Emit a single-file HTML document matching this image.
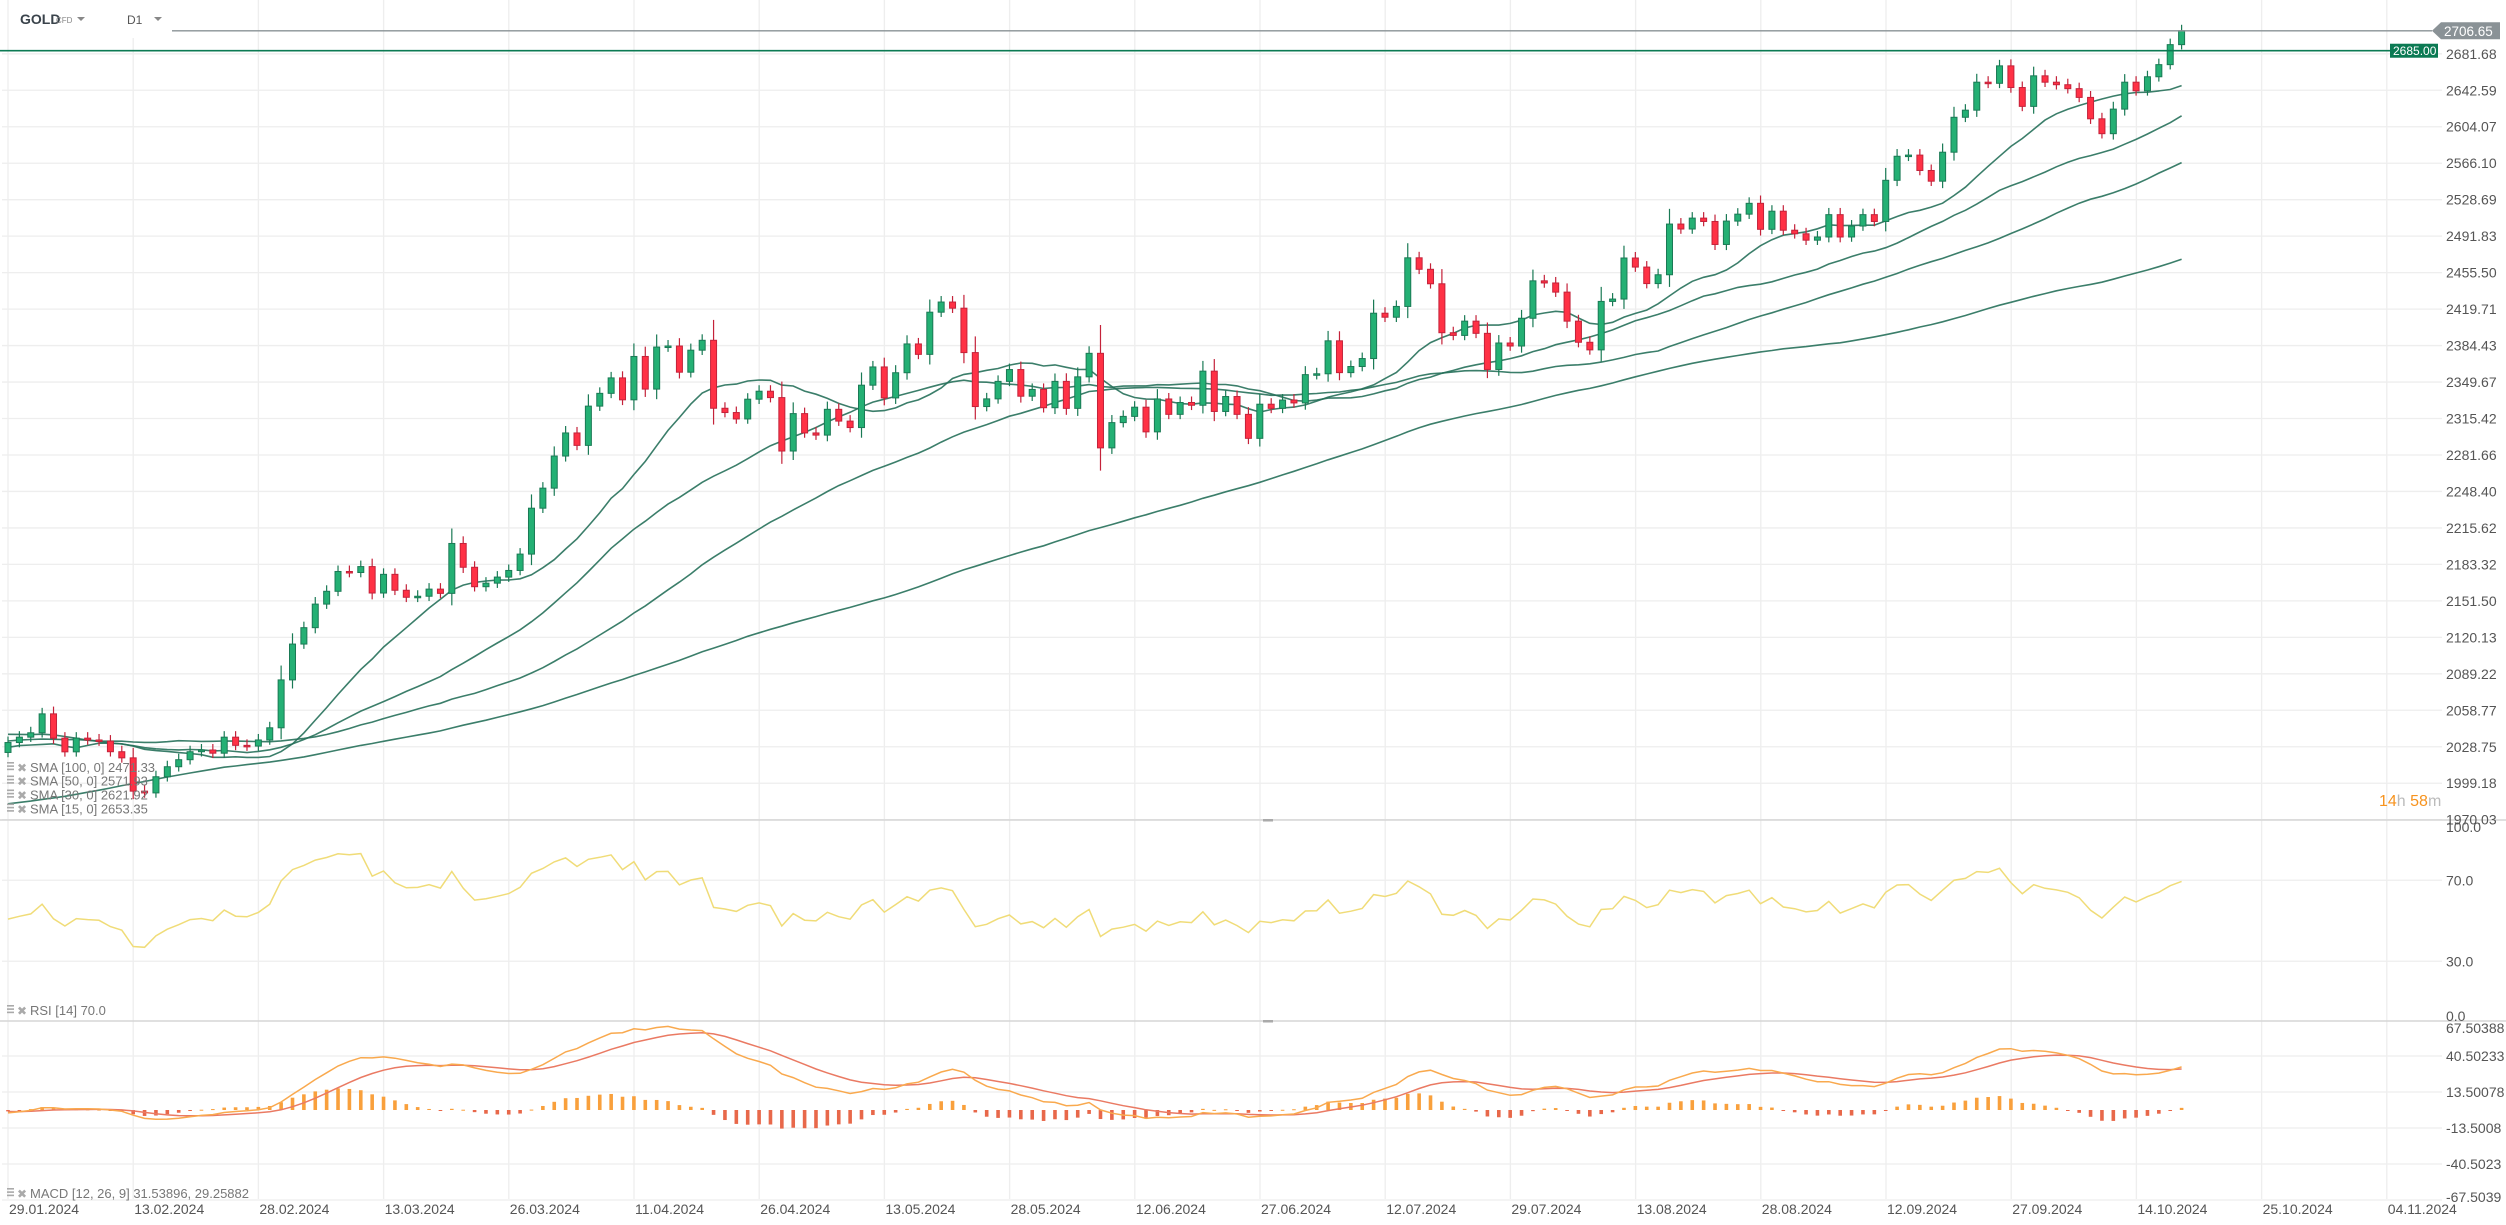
<!DOCTYPE html>
<html><head><meta charset="utf-8"><style>
html,body{margin:0;padding:0;background:#fff;}
svg{display:block;font-family:"Liberation Sans",sans-serif;}
</style></head><body>
<svg id="chart" width="2506" height="1225" viewBox="0 0 2506 1225" xmlns="http://www.w3.org/2000/svg">
<g id="grid"></g>
<g id="main"></g>
<g id="rsi"></g>
<g id="macd"></g>
<g id="axes"></g>
<g id="hdr">
  <rect x="10" y="0" width="162" height="38" fill="#fff"/>
  <text x="20" y="24" font-size="14" font-weight="bold" fill="#3a434b">GOLD</text>
  <text x="56" y="23" font-size="8" fill="#888">CFD</text>
  <path d="M77 17 L85 17 L81 21 Z" fill="#888"/>
  <text x="127" y="24" font-size="12" fill="#555">D1</text>
  <path d="M154 17 L162 17 L158 21 Z" fill="#888"/>
</g>
</svg>
<script>
const NS='http://www.w3.org/2000/svg';
// ---- data ----
const hist=[1923,1930,1932,1920,1918,1900,1875,1865,1870,1848,1830,1828,1822,1820,1833,1860,1862,1873,1868,1875,1932,1922,1921,1950,1947,1975,1980,1972,1970,1985,1984,1998,2006,1993,1983,1986,1994,1992,1978,1968,1950,1957,1959,1940,1946,1962,1982,1987,1980,1977,1992,2000,2015,2041,2044,2037,2036,2057,2072,2029,2019,2027,2005,2005,1983,1980,2036,2043,2019,2026,2031,2040,2045,2047,2052,2065,2078,2083,2063,2063,2043,2036,2041,2031,2029,2029,2015,2033,2049,2028,2055,2054,2006,2006,2023,2029,2021,2030,2020,2023];
const firstOpen=2024.1;
const closes=[2032.2,2036.6,2040.2,2055.8,2035.8,2024.6,2035.8,2034.3,2033.4,2024.7,2019.7,1992.8,1991.4,2004.4,2012.5,2018.2,2024.7,2026.1,2023.5,2036.6,2029.9,2029.3,2034.3,2044.3,2084.1,2114.4,2128.4,2148.7,2159.8,2177.1,2176.2,2181.4,2158.3,2174.6,2160.7,2154.6,2155.5,2161.7,2158.0,2201.8,2180.8,2163.8,2166.9,2172.2,2178.0,2192.4,2233.3,2251.4,2280.7,2302,2290.5,2327,2339,2353.6,2332.9,2374,2343,2383,2384,2359,2380,2389.5,2325,2321,2315,2333.5,2341,2335,2285.3,2320,2302,2300,2324,2313,2307,2346.7,2364,2334.7,2358.5,2386,2376,2416.7,2426.6,2420.6,2377.7,2326.6,2333.8,2350.3,2361.5,2336.3,2342.7,2325.5,2350.3,2324.9,2354.6,2377,2288.2,2311.6,2317.4,2326,2303,2333.7,2319.3,2330.4,2327.8,2360,2322,2336,2319.3,2297,2328.8,2324.9,2332.7,2330,2356.7,2357.5,2389,2358.6,2364.4,2372,2415.7,2411.8,2422.3,2470.2,2458.8,2444.5,2396.8,2394.2,2408,2396.2,2361.6,2386.9,2384,2410.8,2447.4,2445.3,2436.3,2408.0,2387.6,2380.3,2427.2,2429.5,2470,2461,2444.7,2453.4,2504,2499,2510,2506.6,2483.5,2507,2514,2525,2498.7,2517,2497.8,2494.2,2487.8,2491,2513.5,2491,2502,2513.5,2506.6,2548.5,2573.3,2574.5,2558.6,2547.6,2577.5,2614,2621.5,2651.2,2650,2668.7,2645.5,2625.5,2658,2651.2,2648.5,2644.3,2635,2612.4,2596.8,2622.6,2651.2,2642,2657,2670,2691.6,2706.65];
const priceTicks=[2681.68,2642.59,2604.07,2566.10,2528.69,2491.83,2455.50,2419.71,2384.43,2349.67,2315.42,2281.66,2248.40,2215.62,2183.32,2151.50,2120.13,2089.22,2058.77,2028.75,1999.18,1970.03];
const rsiTicks=[100,70,30,0];
const rsiTickLabels=['100.0','70.0','30.0','0.0'];
const macdTicks=[67.50388,40.50233,13.50078,-13.5008,-40.5023,-67.5039];
const macdTickLabels=['67.50388','40.50233','13.50078','-13.5008','-40.5023','-67.5039'];
const dateLabels=['29.01.2024','13.02.2024','28.02.2024','13.03.2024','26.03.2024','11.04.2024','26.04.2024','13.05.2024','28.05.2024','12.06.2024','27.06.2024','12.07.2024','29.07.2024','13.08.2024','28.08.2024','12.09.2024','27.09.2024','14.10.2024','25.10.2024','04.11.2024'];
const smaPeriods=[100,50,30,15];
const lastPrice=2706.65, linePrice=2685.00;

// ---- scales ----
const N=closes.length;
const xBar=i=>8+i*(2181.6-8)/(N-1);
const xDate=k=>8+k*125.2;
const yP=p=>53.8+2483.5*Math.log(2681.68/p);
const yR=v=>1022-v*2.025;
const yM=v=>1110-v*1.3334;

function el(tag,attrs,parent){const e=document.createElementNS(NS,tag);for(const k in attrs)e.setAttribute(k,attrs[k]);parent.appendChild(e);return e;}
const G=document.getElementById('grid'),M=document.getElementById('main'),R=document.getElementById('rsi'),MC=document.getElementById('macd'),A=document.getElementById('axes');

// grid
priceTicks.forEach(p=>{const l=el('line',{x1:2,x2:2442,y1:yP(p),y2:yP(p),stroke:'#eeeeee','stroke-width':1.3},G);

});
[70,30].forEach(v=>{const l=el('line',{x1:2,x2:2442,y1:yR(v),y2:yR(v),stroke:'#eeeeee','stroke-width':1.3},G);

});
macdTicks.slice(1).forEach(v=>{const l=el('line',{x1:2,x2:2442,y1:yM(v),y2:yM(v),stroke:'#eeeeee','stroke-width':1.3},G);

});
dateLabels.forEach((d,k)=>{const l=el('line',{x1:xDate(k),x2:xDate(k),y1:0,y2:1199,stroke:'#eeeeee','stroke-width':1.3},G);

});
// separators
[[820,'price-rsi-separator'],[1021,'rsi-macd-separator']].forEach(([y,n])=>{const l=el('line',{x1:0,x2:2506,y1:y,y2:y,stroke:'#d6d6d6','stroke-width':1.5},G);


const h=el('rect',{x:1263,y:y-1,width:10,height:2.5,fill:'#aaa'},G);

});

// indicators
const all=hist.concat(closes);const H=hist.length;
function sma(n,i){let s=0;for(let j=i-n+1;j<=i;j++)s+=all[j];return s/n;}
function ema(n){const k=2/(n+1);const out=[all[0]];for(let i=1;i<all.length;i++)out.push(all[i]*k+out[i-1]*(1-k));return out;}
const e12=ema(12),e26=ema(26);const macdAll=e12.map((v,i)=>v-e26[i]);
const sig=[macdAll[0]];for(let i=1;i<macdAll.length;i++)sig.push(macdAll[i]*0.2+sig[i-1]*0.8);
let ag=0,al=0;const rsiAll=[];
for(let i=1;i<all.length;i++){const d=all[i]-all[i-1];const g=Math.max(d,0),l=Math.max(-d,0);
 if(i<=14){ag+=g/14;al+=l/14;}else{ag=(ag*13+g)/14;al=(al*13+l)/14;}
 rsiAll[i]=al===0?100:100-100/(1+ag/al);}

// SMA lines
smaPeriods.forEach(n=>{let d='';for(let i=0;i<N;i++){d+=(i?'L':'M')+xBar(i).toFixed(1)+' '+yP(sma(n,H+i)).toFixed(1);}
const p=el('path',{d:d,fill:'none',stroke:'#26705a','stroke-width':1.6,'stroke-opacity':0.9},M);

});

// candles
for(let i=0;i<N;i++){const o=i?closes[i-1]:firstOpen,c=closes[i];const up=c>=o;
 const x=xBar(i);const top=yP(Math.max(o,c)),bot=yP(Math.min(o,c));
 const wick=Math.max(6,(bot-top)*0.3);
 const g=el('g',{},M);
 
 
 el('line',{x1:x,x2:x,y1:top-wick,y2:bot+wick*0.8,stroke:up?'#1a7a55':'#c4223a','stroke-width':1.2},g);
 el('rect',{x:x-3,y:top,width:6,height:Math.max(1.5,bot-top),fill:up?'#24b074':'#ff3145',stroke:up?'#1a7a55':'#c4223a','stroke-width':1},g);}

// price lines
const gl=el('line',{x1:172,x2:2432,y1:yP(lastPrice),y2:yP(lastPrice),stroke:'#8a9296','stroke-width':1.4},M);


const hl=el('line',{x1:0,x2:2390,y1:yP(linePrice),y2:yP(linePrice),stroke:'#0b7a53','stroke-width':1.6},M);



// RSI
let rd='';for(let i=0;i<N;i++)rd+=(i?'L':'M')+xBar(i).toFixed(1)+' '+yR(rsiAll[H+i]).toFixed(1);
const rl=el('path',{d:rd,fill:'none',stroke:'#f0dc78','stroke-width':1.5},R);



// MACD
for(let i=0;i<N;i++){const h=macdAll[H+i]-sig[H+i];const y0=yM(0),y1=yM(h);
 const b=el('rect',{x:xBar(i)-1.8,y:Math.min(y0,y1),width:3.6,height:Math.max(1,Math.abs(y1-y0)),fill:h>=0?'#f9a03c':'#e8684a'},MC);
 
 }
let md='',sd='';for(let i=0;i<N;i++){md+=(i?'L':'M')+xBar(i).toFixed(1)+' '+yM(macdAll[H+i]).toFixed(1);sd+=(i?'L':'M')+xBar(i).toFixed(1)+' '+yM(sig[H+i]).toFixed(1);}
const sl=el('path',{d:sd,fill:'none',stroke:'#ea7a63','stroke-width':1.5},MC);


const ml=el('path',{d:md,fill:'none',stroke:'#f9a94e','stroke-width':1.5},MC);



// axis labels
priceTicks.forEach(p=>{const t=el('text',{x:2446,y:yP(p)+5,'font-size':14,fill:'#555'},A);t.textContent=p.toFixed(2);

});
rsiTicks.forEach((v,k)=>{const y=Math.min(Math.max(yR(v),827),1016);const t=el('text',{x:2446,y:y+5,'font-size':14,fill:'#555'},A);t.textContent=rsiTickLabels[k];

});
macdTicks.forEach((v,k)=>{const y=Math.min(Math.max(yM(v),1028),1197);const t=el('text',{x:2446,y:y+5,'font-size':14,fill:'#555'},A);t.textContent=macdTickLabels[k];

});
dateLabels.forEach((d,k)=>{const t=el('text',{x:xDate(k)+1,y:1214,'font-size':14,fill:'#555'},A);t.textContent=d;

});

// price tags
const yl=yP(lastPrice);
const tg=el('path',{d:`M2432 ${yl} L2441 ${yl-8.5} L2500 ${yl-8.5} L2500 ${yl+8.5} L2441 ${yl+8.5} Z`,fill:'#8a9296'},A);


const tt=el('text',{x:2444,y:yl+5,'font-size':13.5,fill:'#fff'},A);tt.textContent=lastPrice.toFixed(2);


const yh=yP(linePrice);
const gt=el('rect',{x:2390,y:yh-7,width:48,height:14,fill:'#0b7a53'},A);


const gtt=el('text',{x:2393,y:yh+4.5,'font-size':12,fill:'#fff'},A);gtt.textContent=linePrice.toFixed(2);



// countdown
const cd=el('text',{x:2379,y:806,'font-size':16},A);


cd.innerHTML='<tspan fill="#f7931e">14</tspan><tspan fill="#bbb">h </tspan><tspan fill="#f7931e">58</tspan><tspan fill="#bbb">m</tspan>';

// legends
function legend(y,txt,name){const g=el('g',{},A);
 
 
 for(let k=0;k<3;k++)el('rect',{x:7,y:y-5+k*3.3,width:7,height:1.6,fill:'#aaa'},g);
 const x=el('text',{x:17,y:y+5,'font-size':12,fill:'#aaa'},g);x.textContent='✖';
 const t=el('text',{x:30,y:y+5,'font-size':13,fill:'#777'},g);t.textContent=txt;}
legend(767,'SMA [100,  0] 2471.33','sma-100-legend');
legend(780.5,'SMA [50,  0] 2571.93','sma-50-legend');
legend(794.5,'SMA [30,  0] 2621.92','sma-30-legend');
legend(808.5,'SMA [15,  0] 2653.35','sma-15-legend');
legend(1010,'RSI [14]  70.0','rsi-legend');
legend(1193,'MACD [12,  26,  9] 31.53896,  29.25882','macd-legend');
</script>
</body></html>
